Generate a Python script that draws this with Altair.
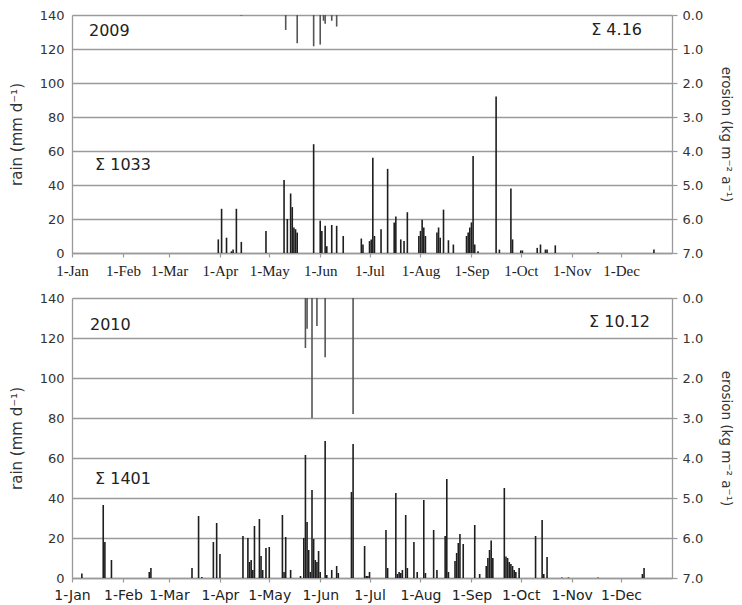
import altair as alt
import pandas as pd

# ---- axis categories ----
month_days = [0, 31, 59, 90, 120, 151, 181, 212, 243, 273, 304, 334]
month_labels = ["1-Jan", "1-Feb", "1-Mar", "1-Apr", "1-May", "1-Jun",
                "1-Jul", "1-Aug", "1-Sep", "1-Oct", "1-Nov", "1-Dec"]
rain_ticks = [0, 20, 40, 60, 80, 100, 120, 140]
erosion_ticks = [0, 1, 2, 3, 4, 5, 6, 7]

# ---- 2009 (day of year from 1-Jan = 0) ----
rain_2009_day = [89, 91, 94, 97, 98, 100, 103, 118, 129, 131, 133, 134, 135, 136, 137,
                 147, 151, 152, 154, 155, 158, 161, 165, 176, 177, 181, 182, 183, 184,
                 188, 192, 196, 197, 200, 202, 204, 211, 212, 213, 214, 215, 222, 223,
                 224, 226, 229, 232, 240, 241, 242, 243, 244, 245, 247, 258, 260, 267,
                 268, 273, 274, 283, 285, 288, 289, 294, 320, 354]
rain_2009_mm = [8, 26, 9, 1, 2, 26, 6.5, 13, 43, 20, 35, 27, 15, 14, 12,
                64, 19, 13, 16, 4, 16.5, 16, 10, 8.5, 5, 7, 8, 56, 10,
                14, 49.5, 18, 21.5, 8, 7, 24, 10, 13, 19.5, 15, 10, 12, 15,
                9, 25.5, 7.5, 5, 10, 12, 15, 18, 57, 5, 1, 92, 2, 38,
                8, 1.5, 1.5, 3, 5, 2, 2, 4.5, 0.5, 2]
erosion_2009_day = [103, 130, 137, 147, 151, 153, 154, 158, 161]
erosion_2009_val = [0.02, 0.44, 0.83, 0.92, 0.87, 0.17, 0.26, 0.17, 0.34]

# ---- 2010 ----
rain_2010_day = [6, 19, 20, 24, 47, 48, 73, 77, 79, 86, 88, 90, 104, 107, 108, 109, 110,
                 111, 114, 115, 116, 118, 120, 128, 129, 130, 133, 139, 141, 142, 143,
                 144, 145, 146, 147, 148, 149, 150, 151, 154, 155, 158, 161, 162, 170,
                 171, 178, 179, 180, 181, 191, 192, 197, 198, 199, 200, 201, 203, 204,
                 208, 210, 214, 215, 220, 222, 227, 228, 229, 233, 234, 235, 236, 238,
                 245, 248, 252, 253, 254, 255, 256, 263, 264, 265, 266, 267, 268, 269,
                 270, 272, 282, 286, 287, 289, 298, 302, 320, 347, 348]
rain_2010_mm = [2.2, 36.5, 18, 9, 3, 5, 5, 31, 0.5, 18, 27.5, 12, 21, 20, 8, 9, 4,
                26, 29.5, 11, 4, 15, 15.5, 31.5, 3, 20.5, 4, 1, 20, 61.5, 28,
                14, 3, 44, 19.5, 9, 8, 13.5, 3, 68.5, 1.5, 4, 6, 2.5, 43,
                67, 16, 1, 1, 3, 24, 5, 42.5, 2, 3, 2.5, 4, 31.5, 5,
                18, 3, 39, 2.5, 24, 4, 21, 49.5, 3, 8.5, 12.5, 17.5, 22, 17,
                26.5, 2, 6, 10, 14, 18.8, 10, 45, 10.8, 10, 8, 7, 6, 4,
                3, 5, 21, 29, 2, 10.5, 0.3, 0.3, 0.3, 2, 5]
erosion_2010_day = [142, 143, 146, 149, 154, 171]
erosion_2010_val = [1.25, 0.77, 3.0, 0.7, 1.48, 2.9]

annot_2009 = ["2009", "\u03a3 1033", "\u03a3 4.16"]
annot_2010 = ["2010", "\u03a3 1401", "\u03a3 10.12"]

label_expr = ("[" + ",".join("'%s'" % m for m in month_labels) + "][indexof(["
              + ",".join(str(d) for d in month_days) + "], datum.value)]")

GRID = "#9a9a9a"
SANS = "DejaVu Sans"


def panel(rain_days, rain_vals, ero_days, ero_vals, annots, height, xfont, xsize, pos):
    rain_df = pd.DataFrame({"day": rain_days, "rain": rain_vals})
    ero_df = pd.DataFrame({"day": ero_days, "erosion": ero_vals})
    xenc = alt.X("day:Q", scale=alt.Scale(domain=[0, 365], nice=False, zero=False),
                 axis=alt.Axis(values=month_days, labelExpr=label_expr, title=None,
                               grid=False, labelFont=xfont, labelFontSize=xsize,
                               labelColor="#222", domainColor=GRID, domainWidth=1.3,
                               tickColor=GRID, tickSize=4, tickWidth=1.2,
                               labelPadding=6, labelFlush=False, labelOverlap=False))
    rain = alt.Chart(rain_df).mark_rule(color="#1e1e1e", strokeWidth=1.6).encode(
        x=xenc,
        y=alt.Y("rain:Q", scale=alt.Scale(domain=[0, 140], nice=False),
                axis=alt.Axis(values=rain_ticks, title="rain (mm d\u207b\u00b9)",
                              grid=True, gridColor=GRID, gridWidth=1.3,
                              domainColor=GRID, domainWidth=1.3, tickSize=0,
                              labelPadding=8, labelFont=SANS, labelFontSize=13,
                              labelColor="#333", titleFont=SANS, titleFontSize=15,
                              titleFontWeight="normal", titleColor="#333",
                              titlePadding=15)),
        y2=alt.datum(0),
    )
    ero = alt.Chart(ero_df).mark_rule(color="#555555", strokeWidth=1.6).encode(
        x=xenc,
        y=alt.Y("erosion:Q", scale=alt.Scale(domain=[0, 7], reverse=True, nice=False),
                axis=alt.Axis(values=erosion_ticks, orient="right", format=".1f",
                              title="erosion (kg m\u207b\u00b2 a\u207b\u00b9)", grid=False,
                              domainColor=GRID, domainWidth=1.3, tickColor=GRID,
                              tickSize=5, tickWidth=1.2, labelPadding=5,
                              labelFont=SANS, labelFontSize=13, labelColor="#333",
                              titleFont=SANS, titleFontSize=13.5, titleFontWeight="normal",
                              titleColor="#333", titlePadding=16)),
        y2=alt.datum(0),
    )
    ann_df = pd.DataFrame({"t": annots, "px": [pos[0][0], pos[1][0], pos[2][0]],
                           "py": [pos[0][1], pos[1][1], pos[2][1]]})
    left = alt.Chart(ann_df.iloc[:2]).mark_text(align="left", baseline="middle",
                                                font=SANS, fontSize=16, color="#222").encode(
        x=alt.X("px:Q", scale=None), y=alt.Y("py:Q", scale=None), text="t:N")
    right = alt.Chart(ann_df.iloc[2:]).mark_text(align="right", baseline="middle",
                                                 font=SANS, fontSize=16, color="#222").encode(
        x=alt.X("px:Q", scale=None), y=alt.Y("py:Q", scale=None), text="t:N")
    return alt.layer(rain, ero, left, right).resolve_scale(y="independent").properties(
        width=600, height=height)


top = panel(rain_2009_day, rain_2009_mm, erosion_2009_day, erosion_2009_val, annot_2009,
            238, "Liberation Serif", 15, [(17, 16), (23, 150), (570, 15)])
bottom = panel(rain_2010_day, rain_2010_mm, erosion_2010_day, erosion_2010_val, annot_2010,
               280, SANS, 14, [(18, 27), (23, 181), (578, 24)])

chart = alt.vconcat(top, bottom, spacing=12).properties(
    padding={"left": 0, "top": 0, "right": 0, "bottom": 0}
).configure_view(strokeWidth=0).configure(background="white")

chart.save("out.html", embed_options={"renderer": "svg", "actions": False})
